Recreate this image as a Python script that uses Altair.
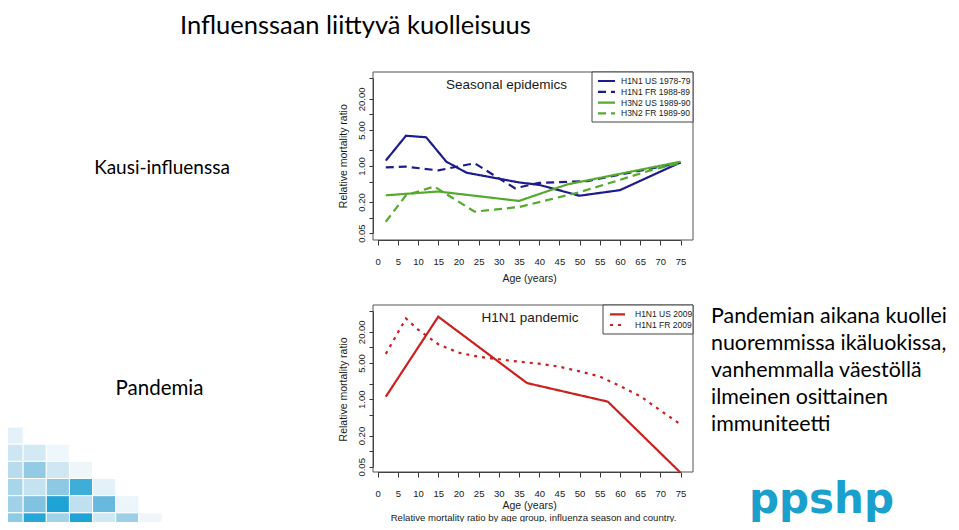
import altair as alt
import pandas as pd

# ---------------- data ----------------
top_series = ["H1N1 US 1978-79", "H1N1 FR 1988-89", "H3N2 US 1989-90", "H3N2 FR 1989-90"]
top_colors = ["#1c1c8c", "#1c1c8c", "#55aa2d", "#55aa2d"]
top_dashes = [[1, 0], [8, 5], [1, 0], [8, 5]]

h1n1_us_7879_age = [2, 7, 12, 17, 22, 35, 40, 50, 60, 75]
h1n1_us_7879_rmr = [1.27, 3.85, 3.6, 1.21, 0.74, 0.48, 0.43, 0.265, 0.34, 1.17]
h1n1_fr_8889_age = [2, 7, 15, 24, 34, 40, 52, 75]
h1n1_fr_8889_rmr = [0.94, 0.97, 0.82, 1.13, 0.37, 0.47, 0.51, 1.16]
h3n2_us_8990_age = [2, 15, 35, 47, 75]
h3n2_us_8990_rmr = [0.27, 0.32, 0.21, 0.44, 1.21]
h3n2_fr_8990_age = [2, 7, 14, 24, 35, 50, 68, 75]
h3n2_fr_8990_rmr = [0.083, 0.27, 0.40, 0.13, 0.16, 0.31, 0.84, 1.15]

bot_series = ["H1N1 US 2009", "H1N1 FR 2009"]
bot_colors = ["#cc2020", "#cc2020"]
bot_dashes = [[1, 0], [3, 5]]

h1n1_us_2009_age = [2, 15, 37, 57, 75]
h1n1_us_2009_rmr = [1.12, 39, 2.05, 0.90, 0.0386]
h1n1_fr_2009_age = [2, 7, 10, 15, 20, 25, 30, 35, 40, 45, 50, 55, 60, 65, 70, 75]
h1n1_fr_2009_rmr = [7.5, 36, 22, 11.5, 7.9, 6.6, 5.9, 5.3, 4.85, 4.25, 3.45, 2.75, 1.8, 1.15, 0.61, 0.33]

age_ticks = list(range(0, 80, 5))
ratio_ticks = [0.05, 0.1, 0.2, 0.5, 1, 2, 5, 10, 20, 50]
ratio_labels = [0.05, 0.2, 1, 5, 20]

slide_title = "Influenssaan liittyvä kuolleisuus"
label_seasonal = "Kausi-influenssa"
label_pandemic = "Pandemia"
note_lines = ["Pandemian aikana kuollei", "nuoremmissa ikäluokissa,", "vanhemmalla väestöllä",
              "ilmeinen osittainen", "immuniteetti"]
caption = "Relative mortality ratio by age group, influenza season and country."

# decorative corner mosaic (rows top->bottom, columns left->right)
mosaic_rows = [
    ["#e4f1f8"],
    ["#cde6f2", "#d3e9f3", "#eef7fb"],
    ["#b9dced", "#93cbe4", "#cfe7f2", "#eef6fa"],
    ["#a9d5ea", "#c4e2f0", "#8ec9e3", "#3eaed8", "#e3f1f8"],
    ["#a0d1e8", "#80c2e0", "#1ea3d5", "#bfe0ef", "#67b9dd", "#ebf5fa"],
    ["#8ecbe5", "#27a6d7", "#a1d2e8", "#20a4d6", "#d0e8f3", "#9dd0e7", "#eef6fa"],
]

# ---------------- layout ----------------
W, H = 943, 514
M = 8  # page margin


def vx(p):
    return p - M


def vy(p):
    return p - M


FONT = "Liberation Sans"
SLIDE_FONT = "Lato"
AX = "#333333"
TXT = "#1a1a1a"

one = pd.DataFrame({"k": [0]})


def long_df(series, ages, vals):
    rows = []
    for s, a, v in zip(series, ages, vals):
        for ai, vi in zip(a, v):
            rows.append({"series": s, "age": ai, "rmr": vi})
    return pd.DataFrame(rows)


df_top = long_df(top_series,
                 [h1n1_us_7879_age, h1n1_fr_8889_age, h3n2_us_8990_age, h3n2_fr_8990_age],
                 [h1n1_us_7879_rmr, h1n1_fr_8889_rmr, h3n2_us_8990_rmr, h3n2_fr_8990_rmr])
df_bot = long_df(bot_series,
                 [h1n1_us_2009_age, h1n1_fr_2009_age],
                 [h1n1_us_2009_rmr, h1n1_fr_2009_rmr])

label_expr = ("indexof([" + ",".join(str(v) for v in ratio_labels) +
              "], datum.value) >= 0 ? format(datum.value, '.2f') : ''")


def panel(df, series, colors, dashes, box, yrng, title_txt, title_pos,
          leg_box, leg_rows, leg_line, leg_text_x, x_label_pad, x_title_pad):
    left, top, right, bottom = box
    layers = []
    # frame
    layers.append(alt.Chart(one).mark_rect(fill="white", fillOpacity=0, stroke="#555555", strokeWidth=1).encode(
        x=alt.value(vx(left)), x2=alt.value(vx(right)), y=alt.value(vy(top)), y2=alt.value(vy(bottom))))
    xa = alt.Axis(orient="bottom", offset=vy(bottom) - H, values=age_ticks, format="d",
                  tickSize=5, tickColor=AX, domainColor=AX, labelFontSize=9.5, labelFont=FONT,
                  labelColor=TXT, labelPadding=x_label_pad, labelFlush=False, labelOverlap=False,
                  grid=False, title="Age (years)", titleFont=FONT, titleFontSize=10.5,
                  titleFontWeight="normal", titleColor=TXT, titlePadding=x_title_pad)
    ya = alt.Axis(orient="left", offset=-vx(left), values=ratio_ticks, labelExpr=label_expr,
                  labelAngle=270, labelAlign="center", labelBaseline="bottom", tickSize=4,
                  tickColor=AX, domainColor=AX, labelPadding=3, labelFontSize=9.5, labelFont=FONT,
                  labelColor=TXT, labelOverlap=False, labelFlush=False, grid=False,
                  title="Relative mortality ratio", titleFont=FONT, titleFontSize=10.5,
                  titleFontWeight="normal", titleColor=TXT, titlePadding=8)
    layers.append(alt.Chart(df).mark_line(strokeWidth=2.2).encode(
        x=alt.X("age:Q", scale=alt.Scale(domain=[0, 75], range=[vx(377.7), vx(680.5)], nice=False, zero=False), axis=xa),
        y=alt.Y("rmr:Q", scale=alt.Scale(type="log", domain=[0.05, 50], range=[vy(yrng[0]), vy(yrng[1])], nice=False), axis=ya),
        color=alt.Color("series:N", scale=alt.Scale(domain=series, range=colors), legend=None),
        strokeDash=alt.StrokeDash("series:N", scale=alt.Scale(domain=series, range=dashes), legend=None),
    ))
    # title inside the plot
    layers.append(alt.Chart(one).mark_text(text=title_txt, font=FONT, fontSize=13.5, color=TXT,
                                           align="center", baseline="middle").encode(
        x=alt.value(vx(title_pos[0])), y=alt.value(vy(title_pos[1]))))
    # legend
    lb = leg_box
    layers.append(alt.Chart(one).mark_rect(fill="white", stroke="#444444", strokeWidth=1).encode(
        x=alt.value(vx(lb[0])), x2=alt.value(vx(lb[2])), y=alt.value(vy(lb[1])), y2=alt.value(vy(lb[3]))))
    leg_df = pd.DataFrame({"series": series})
    ly = alt.Y("series:N", scale=alt.Scale(type="point", domain=series, range=[vy(leg_rows[0]), vy(leg_rows[1])], padding=0), axis=None)
    layers.append(alt.Chart(leg_df).mark_rule(strokeWidth=2.2).encode(
        x=alt.value(vx(leg_line[0])), x2=alt.value(vx(leg_line[1])), y=ly,
        color=alt.Color("series:N", scale=alt.Scale(domain=series, range=colors), legend=None),
        strokeDash=alt.StrokeDash("series:N", scale=alt.Scale(domain=series, range=dashes), legend=None),
    ))
    layers.append(alt.Chart(leg_df).mark_text(align="left", baseline="middle", font=FONT, fontSize=8.5, color=TXT).encode(
        x=alt.value(vx(leg_text_x)), y=ly, text="series:N"))
    return layers


layers = []

# mosaic decoration
mos = []
for r, row in enumerate(mosaic_rows):
    for c, col in enumerate(row):
        mos.append({"c0": c, "c1": c + 1, "r0": r, "r1": r + 1, "col": col})
mos_df = pd.DataFrame(mos)
layers.append(alt.Chart(mos_df).mark_rect(stroke="white", strokeWidth=1).encode(
    x=alt.X("c0:Q", scale=alt.Scale(domain=[0, 7], range=[vx(0), vx(162)], nice=False, zero=False), axis=None),
    x2="c1:Q",
    y=alt.Y("r0:Q", scale=alt.Scale(domain=[0, 6], range=[vy(427), vy(530)], nice=False, zero=False), axis=None),
    y2="r1:Q",
    color=alt.Color("col:N", scale=None),
))

# slide texts
layers.append(alt.Chart(one).mark_text(text=slide_title, font=SLIDE_FONT, fontSize=25.5, color="black",
                                       align="left", baseline="alphabetic").encode(
    x=alt.value(vx(180)), y=alt.value(vy(34))))
layers.append(alt.Chart(one).mark_text(text=label_seasonal, font=SLIDE_FONT, fontSize=19, color="black",
                                       align="center", baseline="middle").encode(
    x=alt.value(vx(162)), y=alt.value(vy(168))))
layers.append(alt.Chart(one).mark_text(text=label_pandemic, font=SLIDE_FONT, fontSize=20.5, color="black",
                                       align="center", baseline="middle").encode(
    x=alt.value(vx(159.5)), y=alt.value(vy(389))))
layers.append(alt.Chart(one).mark_text(text=note_lines, font=SLIDE_FONT, fontSize=21.4, color="black",
                                       align="left", baseline="alphabetic", lineHeight=26.9).encode(
    x=alt.value(vx(711)), y=alt.value(vy(323.3))))
layers.append(alt.Chart(one).mark_text(text=caption, font=FONT, fontSize=9.6, color=TXT,
                                       align="center", baseline="middle").encode(
    x=alt.value(vx(533.5)), y=alt.value(vy(517.5))))
layers.append(alt.Chart(one).mark_text(text="ppshp", font="DejaVu Sans", fontWeight="bold", fontSize=42,
                                       color="#1aa0cc", align="center", baseline="alphabetic").encode(
    x=alt.value(vx(821.5)), y=alt.value(vy(513))))

layers += panel(df_top, top_series, top_colors, top_dashes,
                box=(373, 72, 693, 240), yrng=(233.1, 78.3),
                title_txt="Seasonal epidemics", title_pos=(506.5, 85),
                leg_box=(592, 72, 693, 122), leg_rows=(81, 113.4), leg_line=(598, 615), leg_text_x=621,
                x_label_pad=11, x_title_pad=8)
layers += panel(df_bot, bot_series, bot_colors, bot_dashes,
                box=(373, 305, 693, 472), yrng=(466.8, 311.1),
                title_txt="H1N1 pandemic", title_pos=(530, 318),
                leg_box=(603, 305, 693, 334), leg_rows=(314.3, 325), leg_line=(610, 625), leg_text_x=635,
                x_label_pad=11, x_title_pad=3)

chart = alt.layer(*layers).resolve_scale(
    x="independent", y="independent", color="independent", strokeDash="independent"
).resolve_axis(x="independent", y="independent").properties(
    width=W, height=H, autosize=alt.AutoSizeParams(type="none"), padding=0
).configure_view(stroke=None)

chart.save("out.html", embed_options={"renderer": "svg", "actions": False})
